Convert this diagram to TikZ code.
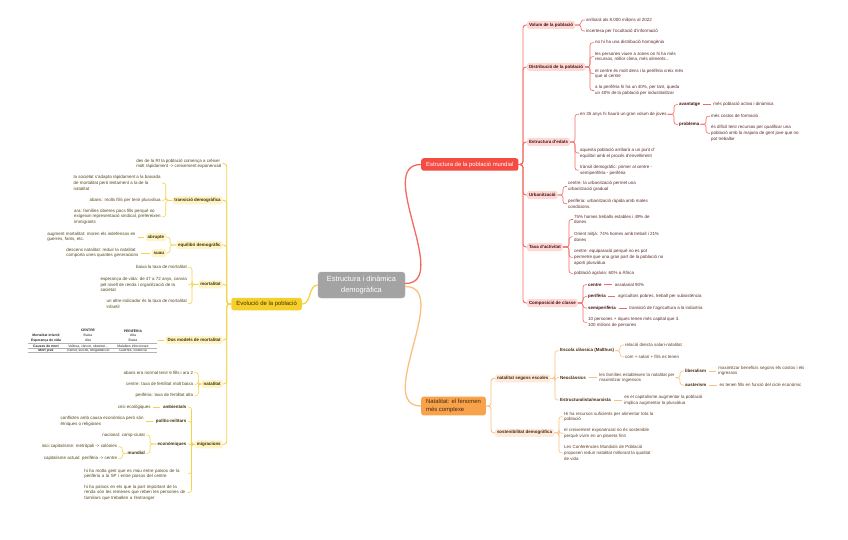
\documentclass[tikz,border=0pt]{standalone}
\usepackage{fontspec}
\setmainfont{Liberation Sans}
\usepackage{xcolor}
\usepackage{tikz}
\usetikzlibrary{positioning}
\definecolor{rootfill}{HTML}{A3A3A3}
\definecolor{rmainfill}{HTML}{F44B42}
\definecolor{rline}{HTML}{F26A63}
\definecolor{rsubfill}{HTML}{FDD8D5}
\definecolor{rtext}{HTML}{5E2A2A}
\definecolor{rbold}{HTML}{4A1010}
\definecolor{ymainfill}{HTML}{F6CF2B}
\definecolor{yline}{HTML}{F5D347}
\definecolor{ysubfill}{HTML}{FEF4C6}
\definecolor{ytext}{HTML}{55481A}
\definecolor{ybold}{HTML}{3E3208}
\definecolor{omainfill}{HTML}{F9A24C}
\definecolor{oline}{HTML}{FBBF80}
\definecolor{osubfill}{HTML}{FDEADB}
\definecolor{otext}{HTML}{5E4028}
\definecolor{obold}{HTML}{45280C}
\tikzset{
  coretopic/.style={rectangle, rounded corners=3pt, draw=black!30, fill=rootfill,
                    text=white, font=\fontsize{7.4}{10.5}\selectfont,
                    minimum width=87pt, minimum height=26pt, align=center, inner sep=2pt},
  mainbox/.style={rectangle, rounded corners=2.5pt, fill=#1, anchor=west,
                  font=\fontsize{5.9}{8.3}\selectfont, inner xsep=5pt, inner ysep=2.5pt,
                  minimum height=12.5pt, align=left},
  subbox/.style={rectangle, rounded corners=2pt, fill=#1,
                 font=\fontsize{4.45}{5.65}\selectfont\bfseries,
                 inner sep=1.8pt, minimum height=8pt},
  leaftxt/.style={font=\fontsize{4.45}{5.65}\selectfont, inner sep=1pt, align=left},
  tagtxt/.style={font=\fontsize{4.45}{5.65}\selectfont\bfseries, inner sep=1pt},
  tabcell/.style={font=\fontsize{3.4}{4.2}\selectfont, inner sep=0pt, text=black!85},
  tabhead/.style={tabcell, font=\fontsize{3.4}{4.2}\selectfont\bfseries},
  linkln/.style={draw=#1, line width=0.6pt, rounded corners=2.5pt},
  trunkln/.style={draw=#1, line width=0.9pt, rounded corners=3pt},
  mainln/.style={draw=#1, line width=1.3pt},
}
\begin{document}
\begin{tikzpicture}[x=1pt, y=-1pt]
  \fill[white] (0,0) rectangle (848,540);
  \useasboundingbox (0,0) rectangle (848,540);
  %% central topic and main branches
  \node[coretopic] (root) at (361.5,285) {Estructura i dinàmica\\demogràfica};
  \node[mainbox=rmainfill, text=white] (rmain) at (421,164.5) {Estructura de la població mundial};
  \node[mainbox=omainfill, text=obold] (omain) at (421,406) {Natalitat: el fenomen\\més complexe};
  \node[mainbox=ymainfill, text=ybold, anchor=east] (ymain) at (302,304) {Evolució de la població};
  \draw[mainln=rline] ([yshift=1.5pt]root.east) to[out=0, in=180] (rmain.west);
  \draw[mainln=oline] ([yshift=-1.5pt]root.east) to[out=0, in=180] (omain.west);
  \draw[mainln=yline] (root.west) to[out=180, in=0] (ymain.east);

  %% Estructura de la poblacio mundial
  \begin{scope}[every node/.append style={anchor=west},
                leaftxt/.append style={text=rtext}, tagtxt/.append style={text=rbold},
                subbox/.append style={text=rbold}]
    \node[subbox=rsubfill] (vol)  at (527,25)  {Volum de la població};
    \node[subbox=rsubfill] (dist) at (527,67)  {Distribució de la població};
    \node[subbox=rsubfill] (edat) at (527,142) {Estructura d'edats};
    \node[subbox=rsubfill] (urb)  at (527,195) {Urbanització};
    \node[subbox=rsubfill] (taxa) at (527,247) {Taxa d'activitat};
    \node[subbox=rsubfill] (comp) at (527,303) {Composició de classe};
    \node[leaftxt] (v1) at (585,20) {arribarà als 8.000 milions al 2022};
    \node[leaftxt] (v2) at (585,31) {incertesa per l'ocultació d'informació};
    \node[leaftxt] (d1) at (594,42.7) {no hi ha una distribució homogènia};
    \node[leaftxt] (d2) at (594,56.7) {les persones viuen a zones on hi ha més\\recursos, millor clima, més aliments...};
    \node[leaftxt] (d3) at (594,73.7) {el centre és molt dens i la perifèria creix més\\que al centre};
    \node[leaftxt] (d4) at (594,90.5) {a la perifèria hi ha un 40\%, per tant, queda\\un 40\% de la població per industrialitzar};
    \node[leaftxt] (e1) at (579,114.3) {en 35 anys hi haurà un gran volum de joves};
    \node[leaftxt] (e2) at (579,153) {aquesta població arribarà a un punt d'\\equilibri amb el procés d'envelliment};
    \node[leaftxt] (e3) at (579,170.2) {trànsit demogràfic: primer al centre -\\semiperifèria - perifèria};
    \node[tagtxt] (avant) at (678,104.7) {avantatge};
    \node[leaftxt, right=11pt of avant] (av1) {més població activa i dinàmica};
    \node[tagtxt] (prob) at (678,124.3) {problema};
    \node[leaftxt] (p1) at (710,116.3) {més costos de formació};
    \node[leaftxt] (p2) at (710,133.3) {és difícil tenir recursos per qualificar una\\població amb la majoria de gent jove que no\\pot treballar};
    \node[leaftxt] (u1) at (567,186.5) {centre: la urbanització permet una\\urbanització gradual};
    \node[leaftxt] (u2) at (567,203.7) {perifèria: urbanització ràpida amb males\\condicions.};
    \node[leaftxt] (t1) at (573,219.5) {75\% homes treballs estables i 49\% de\\dones};
    \node[leaftxt] (t2) at (573,236.9) {Orient mitjà: 74\% homes amb treball i 21\%\\dones};
    \node[leaftxt] (t3) at (573,257.3) {centre: equiparació perquè no es pot\\permetre que una gran part de la població no\\aporti plusvàlua};
    \node[leaftxt] (t4) at (573,273.3) {població agrària: 60\% a Àfrica};
    \node[tagtxt] (cc) at (587,284.7) {centre};
    \node[tagtxt] (cp) at (587,296.7) {perifèria};
    \node[tagtxt] (cs) at (587,308) {semiperifèria};
    \node[leaftxt] (c4) at (587,322.4) {10 persones + riques tenen més capital que 3.\\100 milions de persones};
    \node[leaftxt, right=11pt of cc] (asal) {assalariat 90\%};
    \node[leaftxt, right=10pt of cp] (agri) {agricultors pobres, treball per subsistència};
    \node[leaftxt, right=11pt of cs] (indu) {transició de l'agricultura a la indústria};
  \end{scope}
  \foreach \a/\b in {rmain/vol,rmain/dist,rmain/edat,rmain/urb,rmain/taxa,rmain/comp}
    \draw[trunkln=rline] (\a.east) -| ([xshift=-4pt]\b.west) -- (\b.west);
  \foreach \a/\b in {vol/v1,vol/v2,dist/d1,dist/d2,dist/d3,dist/d4,edat/e1,edat/e2,edat/e3,
                     e1/avant,e1/prob,prob/p1,prob/p2,urb/u1,urb/u2,
                     taxa/t1,taxa/t2,taxa/t3,taxa/t4,comp/cc,comp/cp,comp/cs,comp/c4}
    \draw[linkln=rline] (\a.east) -| ([xshift=-4pt]\b.west) -- (\b.west);
  \foreach \a/\b in {avant/av1,cc/asal,cp/agri,cs/indu}
    \draw[linkln=rline, shorten <=1.5pt, shorten >=1.5pt] (\a.east) -- (\b.west);

  %% Natalitat: el fenomen mes complexe
  \begin{scope}[every node/.append style={anchor=west},
                leaftxt/.append style={text=otext}, tagtxt/.append style={text=obold},
                subbox/.append style={text=obold}]
    \node[subbox=osubfill] (nse)  at (495,378.3) {natalitat segons escoles};
    \node[subbox=osubfill] (sost) at (495,432.8) {sostenibilitat demogràfica};
    \node[tagtxt] (malt) at (559,350.7) {Escola clàssica (Malthus)};
    \node[tagtxt] (neo)  at (559,377.7) {Neoclàssics};
    \node[tagtxt] (estr) at (559,400)   {Estructuralista/marxista};
    \node[leaftxt] (m1) at (624,345)   {relació directa salari-natalitat};
    \node[leaftxt] (m2) at (624,356.7) {com + salari + fills es tenen};
    \node[leaftxt, right=11pt of neo] (n1) {les famílies estableixen la natalitat per\\maximitzar ingressos};
    \node[tagtxt] (lib) at (684,371) {liberalism};
    \node[tagtxt] (aus) at (684,385) {austerism};
    \node[leaftxt, right=10pt of lib] (lib1) {maximitzar beneficis segons els costos i els\\ingressos};
    \node[leaftxt, right=11pt of aus] (aus1) {es tenen fills en funció del cicle econòmic};
    \node[leaftxt, right=11pt of estr] (s1) {en el capitalisme augmentar la població\\implica augmentar la plusvàlua};
    \node[leaftxt] (o1) at (563,416.7) {Hi ha recursos suficients per alimentar tota la\\població};
    \node[leaftxt] (o2) at (563,433.2) {el creixement exponencial no és sostenible\\perquè vivim en un planeta finit};
    \node[leaftxt] (o3) at (563,452.8) {Les Conferències Mundials de Població\\proposen reduir natalitat millorant la qualitat\\de vida};
  \end{scope}
  \foreach \a/\b in {omain/nse,omain/sost}
    \draw[trunkln=oline] (\a.east) -| ([xshift=-4pt]\b.west) -- (\b.west);
  \foreach \a/\b in {nse/malt,nse/neo,nse/estr,malt/m1,malt/m2,n1/lib,n1/aus,
                     sost/o1,sost/o2,sost/o3}
    \draw[linkln=oline] (\a.east) -| ([xshift=-4pt]\b.west) -- (\b.west);
  \foreach \a/\b in {neo/n1,lib/lib1,aus/aus1,estr/s1}
    \draw[linkln=oline, shorten <=1.5pt, shorten >=1.5pt] (\a.east) -- (\b.west);

  %% Evolucio de la poblacio
  \begin{scope}[every node/.append style={anchor=east},
                leaftxt/.append style={text=ytext}, tagtxt/.append style={text=ybold},
                subbox/.append style={text=ybold}]
    \node[leaftxt] (y0) at (222.7,163.7) {des de la RI la població comença a créixer\\molt ràpidament -> creixement exponencial};
    \node[subbox=ysubfill] (trans) at (222.7,200.3) {transició demogràfica};
    \node[subbox=ysubfill] (equi)  at (222.7,245)   {equilibri demogràfic};
    \node[subbox=ysubfill] (mort)  at (222.7,284.3) {mortalitat};
    \node[subbox=ysubfill] (dos)   at (222.7,340)   {Dos models de mortalitat};
    \node[subbox=ysubfill] (nat)   at (222.7,384)   {natalitat};
    \node[subbox=ysubfill] (migr)  at (222.7,444.3) {migracions};
    \node[leaftxt] (tr1) at (161.7,183)   {la societat s'adapta ràpidament a la baixada\\de mortalitat però lentament a la de la\\natalitat};
    \node[leaftxt] (tr2) at (161.7,200.3) {abans: molts fills per tenir plusvàlua};
    \node[leaftxt] (tr3) at (161.7,216.8) {ara: famílies obreres pocs fills perquè no\\exigeixin representació sindical, prefereixen\\immigrants};
    \node[subbox=ysubfill] (abr)  at (166,237) {abrupte};
    \node[subbox=ysubfill] (suau) at (166,253) {suau};
    \node[leaftxt, left=9pt of abr]   (ab1) {augment mortalitat: moren els indefensos en\\guerres, fams, etc.};
    \node[leaftxt, left=12pt of suau] (su1) {descens natalitat: reduir la natalitat\\comporta unes quantes generacions};
    \node[leaftxt] (mo1) at (188,267.3) {baixa la taxa de mortalitat};
    \node[leaftxt] (mo2) at (188,284.7) {esperança de vida: de 47 a 72 anys, canvia\\pel nivell de renda i organització de la\\societat};
    \node[leaftxt] (mo3) at (188,303.7) {un altre indicador és la taxa de mortalitat\\infantil};
    \node[leaftxt] (na1) at (194.3,372.7) {abans era normal tenir 6 fills i ara 2};
    \node[leaftxt] (na2) at (194.3,384.3) {centre: taxa de fertilitat molt baixa};
    \node[leaftxt] (na3) at (194.3,395.7) {perifèria: taxa de fertilitat alta};
    \node[tagtxt] (amb) at (187.5,407)   {ambientals};
    \node[tagtxt] (pol) at (187.5,421.3) {polític-militars};
    \node[tagtxt] (eco) at (187.5,444)   {econòmiques};
    \node[leaftxt, left=10pt of amb] (am1) {crisi ecològiques};
    \node[leaftxt, left=10pt of pol] (po1) {conflictes amb causa econòmica però són\\ètniques o religioses};
    \node[leaftxt] (nac)  at (146,435)   {nacional: camp-ciutat};
    \node[tagtxt]  (mund) at (146,453.3) {mundial};
    \node[leaftxt] (mu1)  at (118.3,446.7) {inici capitalisme: metròpoli -> colònies};
    \node[leaftxt] (mu2)  at (118.3,458.7) {capitalisme actual: perifèria -> centre};
    \node[leaftxt, text width=102pt] (mi1) at (187.5,473.8) {hi ha molta gent que es mou entre països de la\\perifèria a la SP i entre països del centre};
    \node[leaftxt, text width=102pt] (mi2) at (187.5,492.5) {hi ha països en els que la part important de la\\renda són les remeses que reben les persones de\\familiars que treballen a l'estranger};
  \end{scope}
  %% table of the two models
  \node[tabhead] (hcen) at (88,330.7)  {CENTRE};
  \node[tabhead] (hper) at (133,330.7) {PERIFÈRIA};
  \foreach \r/\yy/\ca/\cb/\cc in {1/335.7/Mortalitat infantil/Baixa/Alta,
                                  2/340.3/Esperança de vida/Alta/Baixa,
                                  3/346/Causes de mort/{Vellesa, càncer, obesitat...}/Malalties infeccioses,
                                  4/350.4/Mort jove/{Trànsit, suïcidi, drogaddicció}/{Guerres, violència}}{
    \node[tabhead] (row\r) at (46,\yy)  {\ca};
    \node[tabcell] (cen\r) at (88,\yy)  {\cb};
    \node[tabcell] (per\r) at (133,\yy) {\cc};
  }
  \foreach \yy in {343.6,348.2,352.6}
    \draw[black!30, line width=0.5pt] (28,\yy) -- (157,\yy);
  \coordinate (tblR) at (158,340);
  \foreach \a/\b in {ymain/y0,ymain/trans,ymain/equi,ymain/mort,ymain/dos,ymain/nat,ymain/migr}
    \draw[trunkln=yline] (\a.west) -| ([xshift=4pt]\b.east) -- (\b.east);
  \foreach \a/\b in {trans/tr1,trans/tr2,trans/tr3,equi/abr,equi/suau,mort/mo1,mort/mo2,mort/mo3,
                     nat/na1,nat/na2,nat/na3,migr/amb,migr/pol,migr/eco,migr/mi1,migr/mi2,
                     eco/nac,eco/mund,mund/mu1,mund/mu2}
    \draw[linkln=yline] (\a.west) -| ([xshift=4pt]\b.east) -- (\b.east);
  \foreach \a/\b in {abr/ab1,suau/su1,amb/am1,pol/po1}
    \draw[linkln=yline, shorten <=1.5pt, shorten >=1.5pt] (\a.west) -- (\b.east);
  \draw[linkln=yline, shorten <=1.5pt] (dos.west) -- (tblR);
\end{tikzpicture}
\end{document}
